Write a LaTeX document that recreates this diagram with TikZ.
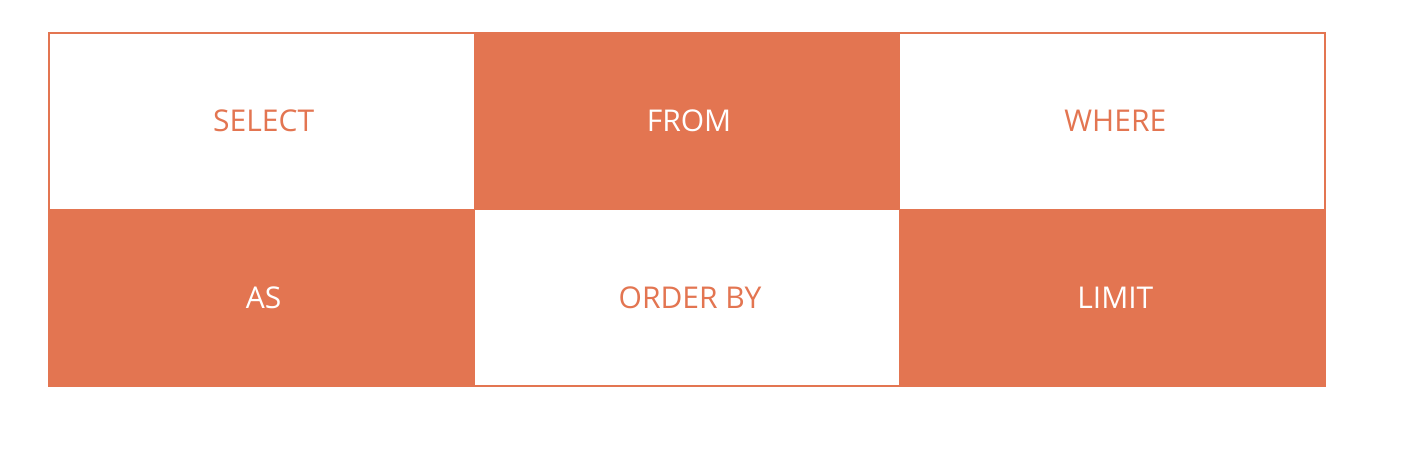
\documentclass[tikz,border=0pt]{standalone}
\usepackage{fontspec}
\setmainfont{Open Sans}
\definecolor{sqlorange}{HTML}{E37551}
\begin{document}
\begin{tikzpicture}[x=1pt,y=-1pt,
  cell/.style={draw=sqlorange,line width=1.5pt,minimum width=425.3pt,minimum height=176.5pt,inner sep=0pt,font=\fontsize{30}{35}\selectfont,text=sqlorange},
  filledcell/.style={cell,fill=sqlorange,text=white},
  lbl/.style={font=\fontsize{30}{35}\selectfont,inner sep=0pt}]
\useasboundingbox (0,0) rectangle (1404,448);
\fill[white] (0,0) rectangle (1404,448);
\node[cell]       (select) at (261.7,121.2) {};
\node[filledcell] (from)   at (687,121.2)   {};
\node[cell]       (where)  at (1112.3,121.2) {};
\node[filledcell] (as)     at (261.7,297.7) {};
\node[cell]       (order)  at (687,297.7)   {};
\node[filledcell] (limit)  at (1112.3,297.7) {};
\node[lbl,text=sqlorange,xshift=2pt] (tselect) at (select) {SELECT};
\node[lbl,text=white,xshift=2pt]     (tfrom)   at (from)   {FROM};
\node[lbl,text=sqlorange,xshift=3pt] (twhere)  at (where)  {WHERE};
\node[lbl,text=white,xshift=2pt]     (tas)     at (as)     {AS};
\node[lbl,text=sqlorange,xshift=3pt] (torder)  at (order)  {ORDER BY};
\node[lbl,text=white,xshift=3pt]     (tlimit)  at (limit)  {LIMIT};
\end{tikzpicture}
\end{document}
